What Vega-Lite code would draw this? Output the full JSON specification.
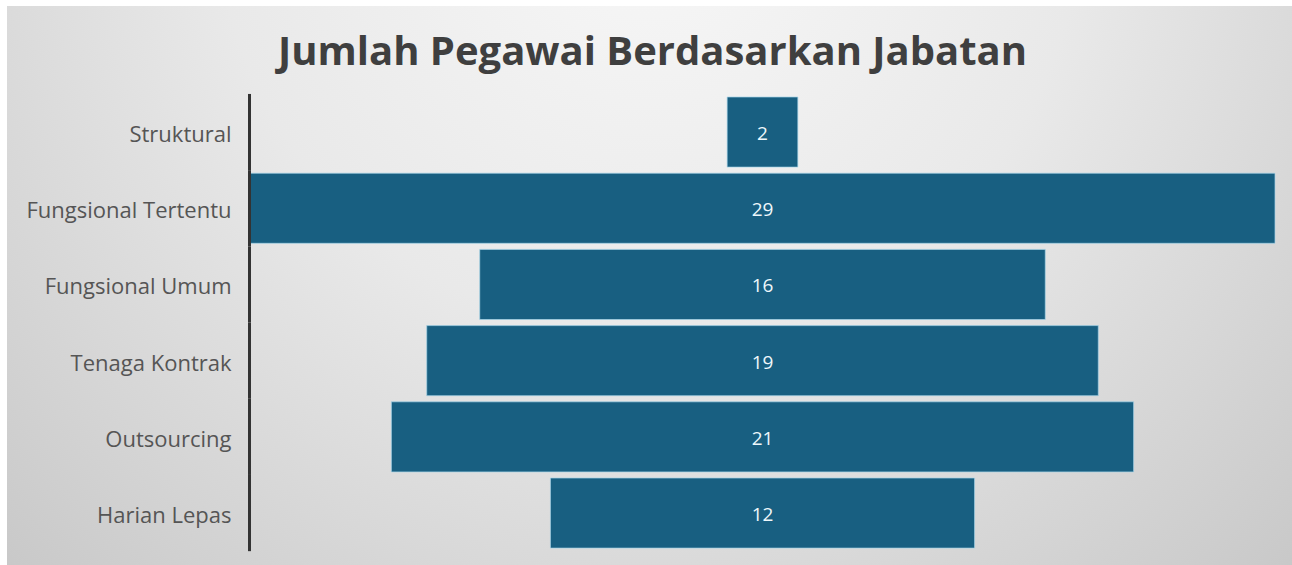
{
  "$schema": "https://vega.github.io/schema/vega-lite/v6.json",
  "width": 1285,
  "height": 559,
  "autosize": {"type": "none"},
  "padding": {"left": 7, "top": 6, "right": 0, "bottom": 0},
  "background": "#ffffff",
  "title": {
    "text": "Jumlah Pegawai Berdasarkan Jabatan",
    "font": "Open Sans",
    "fontSize": 40,
    "fontWeight": "bold",
    "color": "#3f3f3f",
    "anchor": "middle",
    "baseline": "alphabetic",
    "offset": -99,
    "dx": 3
  },
  "config": {
    "view": {
      "stroke": null,
      "fill": {
        "gradient": "radial",
        "x1": 0.5, "y1": 0.2, "r1": 0,
        "x2": 0.5, "y2": 0.2, "r2": 0.75,
        "stops": [
          {"offset": 0, "color": "#f8f8f8"},
          {"offset": 0.45, "color": "#e9e9e9"},
          {"offset": 1, "color": "#c6c6c6"}
        ]
      }
    }
  },
  "data": {
    "values": [
      {"jabatan": "Struktural", "jumlah": 2},
      {"jabatan": "Fungsional Tertentu", "jumlah": 29},
      {"jabatan": "Fungsional Umum", "jumlah": 16},
      {"jabatan": "Tenaga Kontrak", "jumlah": 19},
      {"jabatan": "Outsourcing", "jumlah": 21},
      {"jabatan": "Harian Lepas", "jumlah": 12}
    ]
  },
  "encoding": {
    "y": {
      "field": "jabatan",
      "type": "nominal",
      "sort": null,
      "scale": {"paddingInner": 0, "paddingOuter": 0.668, "align": 0.864},
      "axis": {
        "title": null,
        "offset": -243,
        "domain": false,
        "ticks": false,
        "labelPadding": 19,
        "labelOffset": 3,
        "labelFont": "Open Sans",
        "labelFontSize": 22,
        "labelColor": "#555555",
        "labelLimit": 300
      }
    }
  },
  "layer": [
    {
      "mark": {"type": "bar", "height": {"band": 0.92}, "color": "#185f81", "stroke": "#a6d4e8", "strokeWidth": 1, "strokeOpacity": 0.7},
      "encoding": {
        "x": {
          "field": "jumlah",
          "type": "quantitative",
          "stack": "center",
          "scale": {"domain": [-6.875, 29.481], "nice": false, "zero": false},
          "axis": null
        }
      }
    },
    {
      "mark": {"type": "rect", "color": "#333333", "xOffset": -2, "x2Offset": 1},
      "encoding": {
        "x": {"datum": 0, "type": "quantitative"},
        "x2": {"datum": 0}
      }
    },
    {
      "mark": {"type": "text", "font": "Open Sans", "fontSize": 19, "color": "#eef7fb", "align": "center", "baseline": "middle", "dy": 2},
      "encoding": {
        "x": {"datum": 14.5, "type": "quantitative"},
        "text": {"field": "jumlah", "type": "quantitative"}
      }
    }
  ]
}
